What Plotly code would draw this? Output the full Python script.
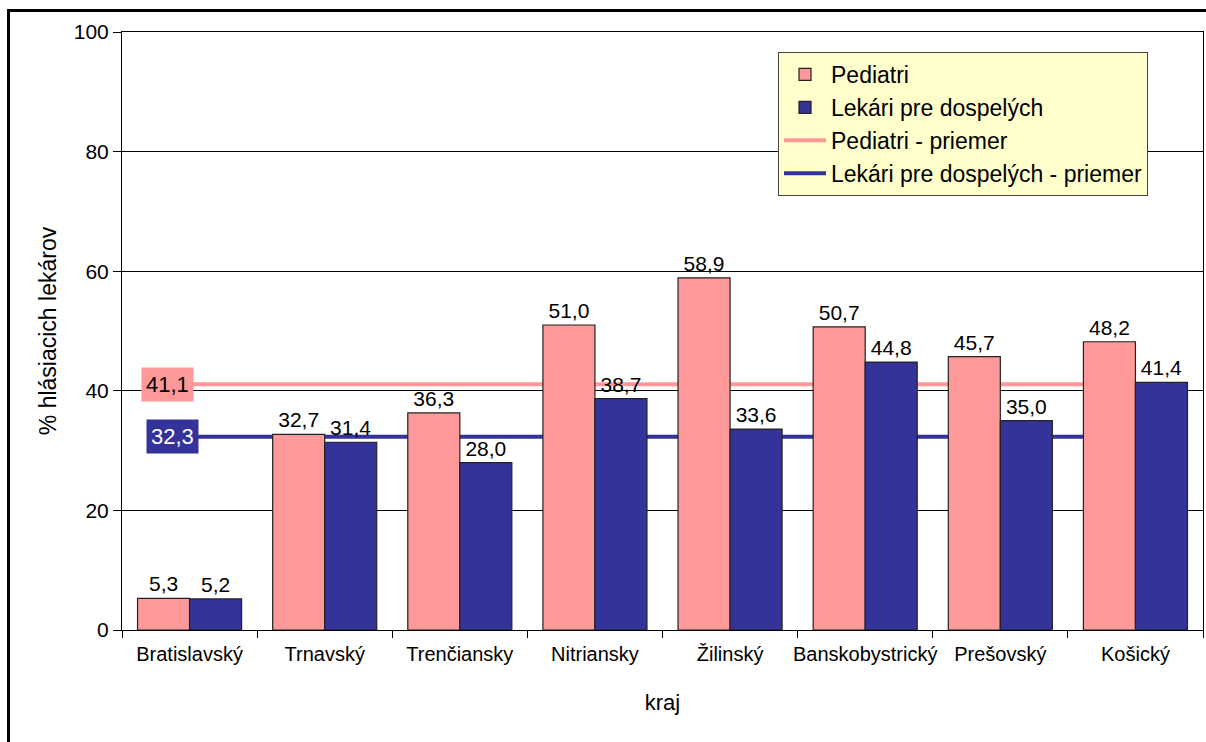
import plotly.graph_objects as go

categories = ["Bratislavský", "Trnavský", "Trenčiansky", "Nitriansky",
              "Žilinský", "Banskobystrický", "Prešovský", "Košický"]
pediatri = [5.3, 32.7, 36.3, 51.0, 58.9, 50.7, 45.7, 48.2]
dospeli = [5.2, 31.4, 28.0, 38.7, 33.6, 44.8, 35.0, 41.4]
pediatri_avg = 41.1
dospeli_avg = 32.3

PINK = "#FF9999"
BLUE = "#333399"
FONT = "Liberation Sans, Arial, sans-serif"


def fmt(v):
    return f"{v:.1f}".replace(".", ",")


fig = go.Figure()

# bars drawn on overlaying y-axis so that they sit above the average lines
fig.add_trace(go.Bar(
    x=categories, y=pediatri, name="Pediatri", yaxis="y2",
    marker=dict(color=PINK, line=dict(color="#222222", width=1.2)),
    text=[fmt(v) for v in pediatri], textposition="outside",
    textfont=dict(size=21, color="black", family=FONT), cliponaxis=False,
    legendgroup="a",
))
fig.add_trace(go.Bar(
    x=categories, y=dospeli, name="Lekári pre dospelých", yaxis="y2",
    marker=dict(color=BLUE, line=dict(color="#222222", width=1.2)),
    text=[fmt(v) for v in dospeli], textposition="outside",
    textfont=dict(size=21, color="black", family=FONT), cliponaxis=False,
    legendgroup="b",
))
fig.add_trace(go.Scatter(
    x=categories, y=[pediatri_avg] * len(categories), name="Pediatri - priemer",
    mode="lines", line=dict(color=PINK, width=4), legendgroup="c",
))
fig.add_trace(go.Scatter(
    x=categories, y=[dospeli_avg] * len(categories),
    name="Lekári pre dospelých - priemer",
    mode="lines", line=dict(color=BLUE, width=4), legendgroup="d",
))

fig.add_annotation(x=categories[0], y=pediatri_avg, xref="x", yref="y",
                   text=fmt(pediatri_avg), showarrow=False, xshift=-22,
                   bgcolor=PINK, borderpad=4,
                   font=dict(size=22, color="black", family=FONT))
fig.add_annotation(x=categories[0], y=dospeli_avg, xref="x", yref="y",
                   text=fmt(dospeli_avg), showarrow=False, xshift=-17,
                   bgcolor=BLUE, borderpad=4,
                   font=dict(size=22, color="white", family=FONT))

W, H = 1206, 742
L, R, T, B = 122, 3, 32, 112
pw, ph = W - L - R, H - T - B
# outer black frame (partially cut off like the reference)
fig.add_shape(type="rect", xref="paper", yref="paper",
              x0=(8.5 - L) / pw, x1=(W + 20 - L) / pw,
              y0=-(B + 20) / ph, y1=1 + (T - 10.5) / ph,
              line=dict(color="black", width=3), fillcolor="rgba(0,0,0,0)")

fig.update_layout(
    width=W, height=H,
    margin=dict(l=L, r=R, t=T, b=B, autoexpand=False),
    paper_bgcolor="white", plot_bgcolor="white",
    font=dict(family=FONT, size=21, color="black"),
    barmode="group", bargap=0.23, bargroupgap=0,
    showlegend=True,
    legend=dict(x=(778 - L) / pw, y=1 - (52 - T) / ph, xanchor="left", yanchor="top",
                bgcolor="#FFFFCC", bordercolor="#444444", borderwidth=1,
                font=dict(size=23, family=FONT, color="black"),
                itemwidth=42, tracegroupgap=5, traceorder="normal"),
    xaxis=dict(
        type="category", showgrid=False, showline=True, linecolor="black", linewidth=1,
        mirror=True, ticks="outside", tickson="boundaries", ticklen=7, tickangle=0,
        ticklabelstandoff=6,
        tickcolor="black", tickfont=dict(size=20, family=FONT), automargin=False,
        title=dict(text="kraj", font=dict(size=22, family=FONT), standoff=30),
    ),
    yaxis=dict(
        range=[0, 100], dtick=20, showgrid=True, gridcolor="black", gridwidth=1,
        showline=True, linecolor="black", linewidth=1, mirror=True,
        ticks="outside", ticklen=8, tickcolor="black", zeroline=False,
        tickfont=dict(size=21, family=FONT), automargin=False,
        title=dict(text="% hlásiacich lekárov", font=dict(size=23, family=FONT), standoff=10),
    ),
    yaxis2=dict(overlaying="y", matches="y", visible=False, range=[0, 100]),
)

fig.write_html("out.html", config={"displayModeBar": False},
               post_script="document.body.style.margin='0';document.body.style.overflow='hidden';")
